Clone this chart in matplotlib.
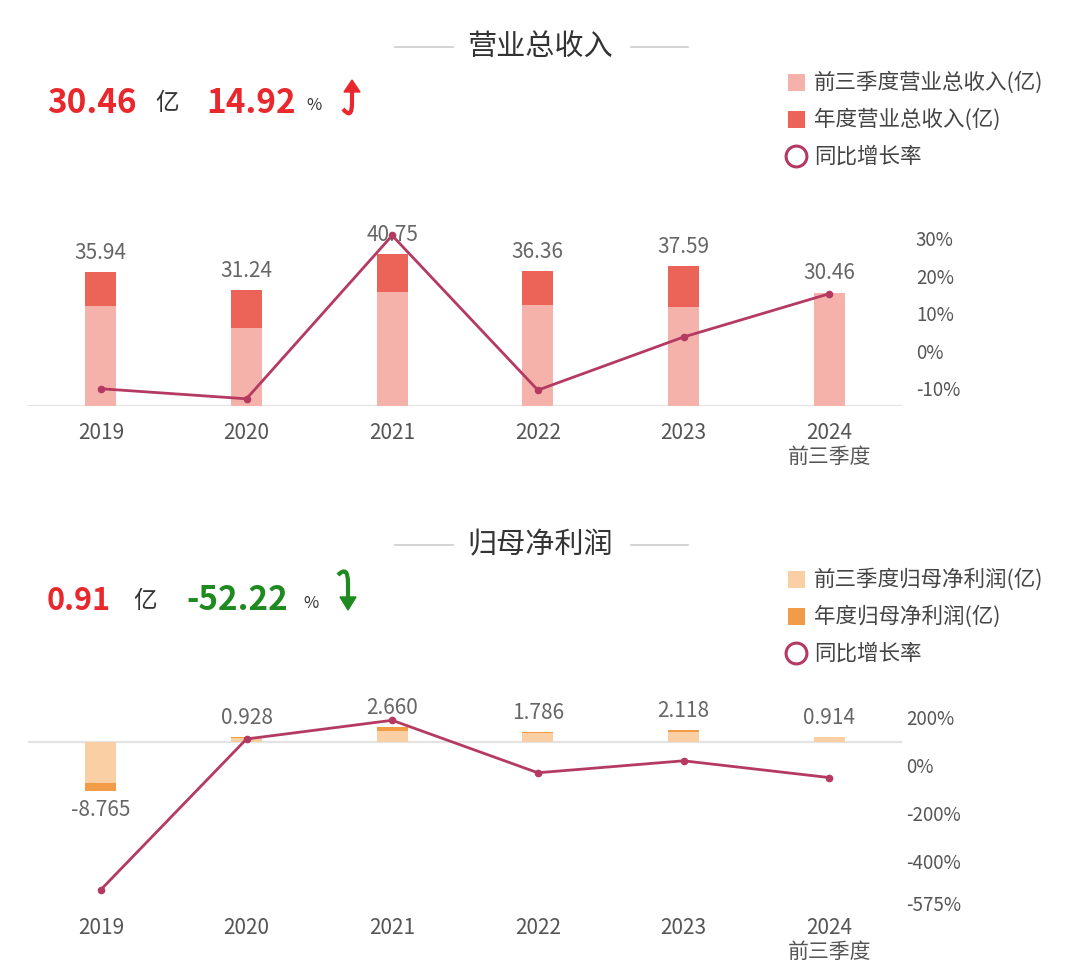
import numpy as np
import matplotlib
matplotlib.use("Agg")
import matplotlib.pyplot as plt
from matplotlib.patches import Rectangle, PathPatch, Polygon
from matplotlib.path import Path
from matplotlib.lines import Line2D

plt.rcParams['font.family'] = ['Noto Sans CJK SC', 'DejaVu Sans']

# ---------------- data ----------------
years = ["2019", "2020", "2021", "2022", "2023", "2024\n前三季度"]

rev_q3 = [26.8, 21.0, 30.7, 27.0, 26.51, 30.46]
rev_annual = [35.94, 31.24, 40.75, 36.36, 37.59, np.nan]
rev_labels = ["35.94", "31.24", "40.75", "36.36", "37.59", "30.46"]
rev_growth = [-10.4, -13.08, 30.44, -10.77, 3.38, 14.92]
rev_ticks = [30, 20, 10, 0, -10]

np_q3 = [-7.33, 0.85, 1.95, 1.72, 1.913, 0.914]
np_annual = [-8.765, 0.928, 2.660, 1.786, 2.118, np.nan]
np_labels = ["-8.765", "0.928", "2.660", "1.786", "2.118", "0.914"]
np_growth = [-525, 104, 182, -37, 13, -57]
np_ticks = [200, 0, -200, -400, -575]

W, H = 1080, 970
fig = plt.figure(figsize=(W / 100, H / 100), dpi=100)
fig.patch.set_facecolor("white")


def fx(x):
    return x / W


def fy(y):
    return 1 - y / H


LINE_C = "#B53A62"
TXT = "#666666"
x = np.arange(len(years))
bw = 0.215


def make_panel(top_px, bot_px, q3, annual, labels, growth, ticks, ylim_l, ylim_r,
               c_light, c_dark, rpad):
    ax = fig.add_axes([fx(28), fy(bot_px), fx(902) - fx(28), (bot_px - top_px) / H])
    ax.set_xlim(-0.5, 5.5)
    ax.set_ylim(*ylim_l)
    for s in ax.spines.values():
        s.set_visible(False)
    ax.set_yticks([])
    ax.set_xticks(x)
    ax.set_xticklabels(years, fontsize=15, color="#555555", linespacing=1.12)
    ax.tick_params(axis="x", length=0, pad=10.5)
    ax.axhline(0, color="#e3e3e3", lw=1.6, zorder=0.5)
    ax.bar(x, annual, bw, color=c_dark, zorder=2)
    ax.bar(x, q3, bw, color=c_light, zorder=3)
    for i in range(len(x)):
        v = annual[i] if not np.isnan(annual[i]) else q3[i]
        off = 14.5 if v >= 0 else -13
        ax.annotate(labels[i], (x[i], v), xytext=(0, off), textcoords="offset points",
                    ha="center", va="center", fontsize=15, color=TXT)
    ax2 = ax.twinx()
    ax2.set_ylim(*ylim_r)
    for s in ax2.spines.values():
        s.set_visible(False)
    ax2.plot(x, growth, color=LINE_C, lw=2, marker="o", ms=4.5, zorder=5)
    ax2.set_yticks(ticks)
    ax2.set_yticklabels([f"{t}%" for t in ticks], fontsize=13.5, color="#555555")
    ax2.tick_params(axis="y", length=0, pad=rpad)
    return ax, ax2


make_panel(219, 407, rev_q3, rev_annual, rev_labels, rev_growth, rev_ticks,
           (0, 50.5), (-15, 35.1), "#F5B2AA", "#EC6457", 10)
make_panel(705, 902.7, np_q3, np_annual, np_labels, np_growth, np_ticks,
           (-28.5, 6.85), (-575, 250), "#FBCFA4", "#F39C48", 3)


def title(ytop, text):
    fig.text(0.5, fy(ytop), text, ha="center", va="center", fontsize=21, color="#333333")
    for xa, xb in [(395, 453), (631, 688)]:
        fig.add_artist(Line2D([fx(xa), fx(xb)], [fy(ytop + 1), fy(ytop + 1)],
                              color="#cccccc", lw=1.2))


title(47, "营业总收入")
title(545, "归母净利润")


def headline(yc, v1, v1_size, pct, pct_color, x_v, x_yi, x_p, x_pc, v1_color):
    fig.text(fx(x_v), fy(yc), v1, ha="left", va="center", fontsize=v1_size,
             fontweight="bold", color=v1_color)
    fig.text(fx(x_yi), fy(yc), "亿", ha="left", va="center", fontsize=17, color="#333333")
    fig.text(fx(x_p), fy(yc), pct, ha="left", va="center", fontsize=24,
             fontweight="bold", color=pct_color)
    fig.text(fx(x_pc), fy(yc + 2), "%", ha="left", va="center", fontsize=12, color="#333333")


headline(104, "30.46", 24, "14.92", "#E8282C", 47, 155, 206, 306, "#E8282C")
headline(601, "0.91", 22, "-52.22", "#1F8A1F", 47, 133, 186, 303, "#E8282C")


def px_path(pts, codes):
    return Path([(fx(a), fy(b)) for a, b in pts], codes)


# up hook arrow (red)
up = px_path([(343, 110), (352, 121), (352, 104), (352, 90)],
             [Path.MOVETO, Path.CURVE3, Path.CURVE3, Path.LINETO])
fig.add_artist(PathPatch(up, fill=False, ec="#E8282C", lw=3, transform=fig.transFigure))
fig.add_artist(Polygon([(fx(344), fy(93)), (fx(352), fy(81)), (fx(360), fy(93))],
                       closed=True, fc="#E8282C", ec="#E8282C", transform=fig.transFigure))
# down hook arrow (green)
dn = px_path([(338, 576), (348, 566), (348, 584), (348, 600)],
             [Path.MOVETO, Path.CURVE3, Path.CURVE3, Path.LINETO])
fig.add_artist(PathPatch(dn, fill=False, ec="#1F8A1F", lw=3, transform=fig.transFigure))
fig.add_artist(Polygon([(fx(340), fy(598)), (fx(348), fy(611)), (fx(356), fy(598))],
                       closed=True, fc="#1F8A1F", ec="#1F8A1F", transform=fig.transFigure))


def legend(y0, items):
    for k, (kind, color, label) in enumerate(items):
        yc = y0 + 37 * k
        if kind == "sq":
            fig.add_artist(Rectangle((fx(788), fy(yc + 8.5)), 17 / W, 17 / H,
                                     fc=color, ec="none", transform=fig.transFigure))
        else:
            fig.add_artist(Line2D([fx(796)], [fy(yc)], marker="o", ms=15, mfc="white",
                                  mec=color, mew=2.2, ls="none"))
        fig.text(fx(814), fy(yc), label, ha="left", va="center", fontsize=15.5, color="#444444")


legend(83, [("sq", "#F5B2AA", "前三季度营业总收入(亿)"),
            ("sq", "#EC6457", "年度营业总收入(亿)"),
            ("ci", LINE_C, "同比增长率")])
legend(580, [("sq", "#FBCFA4", "前三季度归母净利润(亿)"),
             ("sq", "#F39C48", "年度归母净利润(亿)"),
             ("ci", LINE_C, "同比增长率")])

fig.savefig("out.png", dpi=100, facecolor="white")
